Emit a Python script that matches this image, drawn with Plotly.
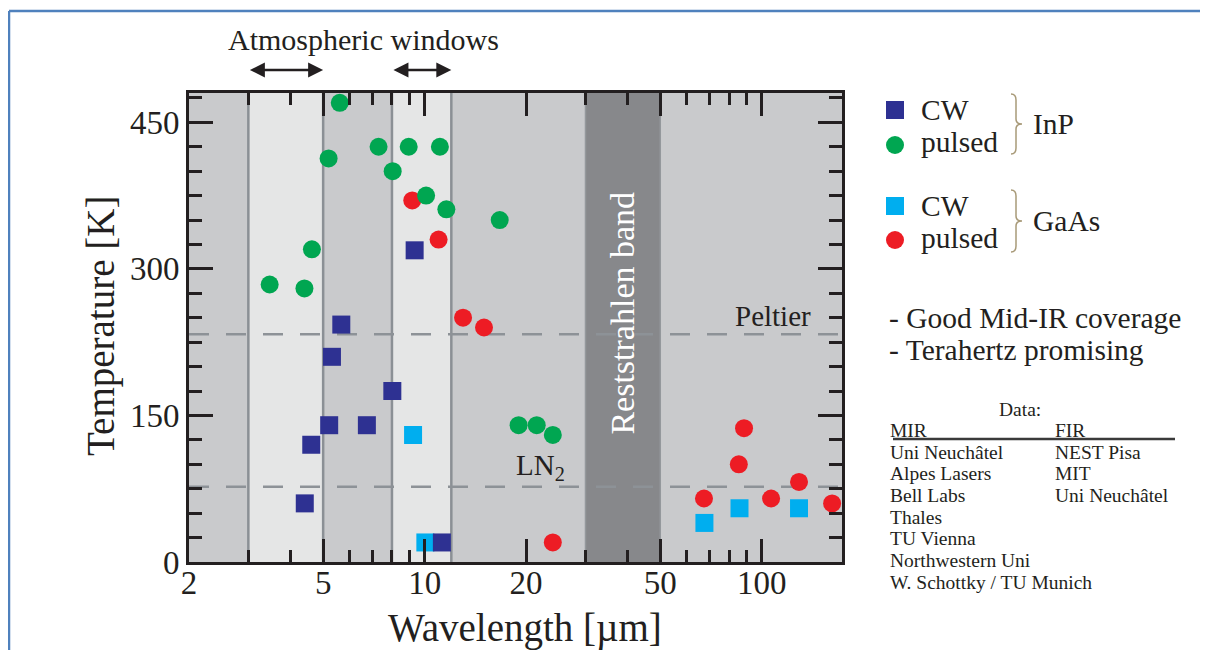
import plotly.graph_objects as go
import math

# ---------------- data ----------------
# InP, continuous wave
inp_cw_wl = [4.41, 4.61, 5.21, 5.31, 5.66, 6.74, 8.02, 9.34, 11.25]
inp_cw_T = [60, 120, 140, 210, 243, 140, 175, 319, 20]
# InP, pulsed
inp_p_wl = [3.47, 4.40, 4.63, 5.19, 5.60, 7.30, 8.04, 8.97, 10.1, 11.1, 11.6, 16.7, 19.0, 21.5, 24.0]
inp_p_T = [284, 280, 320, 413, 470, 425, 400, 425, 375, 425, 361, 350, 140, 140, 130]
# GaAs, continuous wave
gaas_cw_wl = [9.24, 10.05, 67.6, 85.9, 129]
gaas_cw_T = [130, 20, 40, 55, 55]
# GaAs, pulsed
gaas_p_wl = [9.19, 11.0, 13.0, 15.0, 24.0, 67.4, 85.5, 88.6, 106.6, 129, 161.7]
gaas_p_T = [370, 330, 250, 240, 20, 65, 100, 137, 65, 82, 60]

x_major = [2, 5, 10, 20, 50, 100]
x_minor = [3, 4, 6, 7, 8, 9, 30, 40, 60, 70, 80, 90]
y_major = [0, 150, 300, 450]

windows = [(3, 5), (8, 12)]
reststrahlen = (30, 50)
peltier_T = 233
ln2_T = 77

mir_labs = ["Uni Neuchâtel", "Alpes Lasers", "Bell Labs", "Thales", "TU Vienna",
            "Northwestern Uni", "W. Schottky / TU Munich"]
fir_labs = ["NEST Pisa", "MIT", "Uni Neuchâtel"]

# ---------------- style ----------------
FONT = "Liberation Serif"
TXT = "#231f20"
C_INP_CW = "#2e3192"
C_INP_P = "#00a651"
C_GAAS_CW = "#00aeef"
C_GAAS_P = "#ed1c24"
BG_DARK = "#c9cacc"
BG_LIGHT = "#e5e6e6"
BG_REST = "#87888b"
LINE_GRAY = "#8b9095"

OFF = 8  # page body margin
W, H = 1208 - OFF, 650 - OFF
PW, PH = 653, 469
L, T = 189 - OFF, 93 - OFF
R, B = W - L - PW, H - T - PH


def px(x):  # screenshot pixel -> paper
    return (x - OFF - L) / PW


def py(y):
    return (H - B - (y - OFF)) / PH


fig = go.Figure()

ms = 18
fig.add_trace(go.Scatter(x=gaas_p_wl, y=gaas_p_T, mode="markers",
                         marker=dict(symbol="circle", size=ms, color=C_GAAS_P), name="GaAs pulsed"))
fig.add_trace(go.Scatter(x=inp_p_wl, y=inp_p_T, mode="markers",
                         marker=dict(symbol="circle", size=ms, color=C_INP_P), name="InP pulsed"))
fig.add_trace(go.Scatter(x=gaas_cw_wl, y=gaas_cw_T, mode="markers",
                         marker=dict(symbol="square", size=ms, color=C_GAAS_CW), name="GaAs CW"))
fig.add_trace(go.Scatter(x=inp_cw_wl, y=inp_cw_T, mode="markers",
                         marker=dict(symbol="square", size=ms, color=C_INP_CW), name="InP CW"))

shapes = []
for a, b in windows:
    shapes.append(dict(type="rect", xref="x", yref="paper", x0=a, x1=b, y0=0, y1=1,
                       fillcolor=BG_LIGHT, line=dict(width=0), layer="below"))
shapes.append(dict(type="rect", xref="x", yref="paper", x0=reststrahlen[0], x1=reststrahlen[1],
                   y0=0, y1=1, fillcolor=BG_REST, line=dict(width=0), layer="below"))
for v in reststrahlen:
    shapes.append(dict(type="line", xref="x", yref="paper", x0=v, x1=v, y0=0, y1=1,
                       line=dict(color="#94989c", width=1.5), layer="below"))
for a, b in windows:
    for v in (a, b):
        shapes.append(dict(type="line", xref="x", yref="paper", x0=v, x1=v, y0=0, y1=1,
                           line=dict(color=LINE_GRAY, width=2.5), layer="below"))
for v in (peltier_T, ln2_T):
    shapes.append(dict(type="line", xref="paper", yref="y", x0=0, x1=1, y0=v, y1=v,
                       line=dict(color="#8d9297", width=2.5, dash="20px,17px"), layer="below"))

# outer blue frame (top and left edges visible only)
shapes.append(dict(type="line", xref="paper", yref="paper", x0=px(9), x1=px(1300),
                   y0=py(11), y1=py(11), line=dict(color="#4f81bd", width=2.5)))
shapes.append(dict(type="line", xref="paper", yref="paper", x0=px(9), x1=px(9),
                   y0=py(11), y1=py(800), line=dict(color="#4f81bd", width=2.5)))


def sq(cx, cy, color):
    return dict(type="rect", xref="paper", yref="paper", x0=px(cx - 9), x1=px(cx + 9),
                y0=py(cy + 9), y1=py(cy - 9), fillcolor=color, line=dict(width=0))


def circ(cx, cy, color):
    return dict(type="circle", xref="paper", yref="paper", x0=px(cx - 9), x1=px(cx + 9),
                y0=py(cy + 9), y1=py(cy - 9), fillcolor=color, line=dict(width=0))


shapes += [sq(895, 110, C_INP_CW), circ(895, 145, C_INP_P),
           sq(895, 206, C_GAAS_CW), circ(895, 240, C_GAAS_P)]


def brace(x0, ytop, ybot):
    ym = (ytop + ybot) / 2
    xm = x0 + 5
    xt = x0 + 11
    pts = (f"M {px(x0)},{py(ytop)} Q {px(xm)},{py(ytop)} {px(xm)},{py(ytop + 6)} "
           f"L {px(xm)},{py(ym - 5)} Q {px(xm)},{py(ym)} {px(xt)},{py(ym)} "
           f"Q {px(xm)},{py(ym)} {px(xm)},{py(ym + 5)} "
           f"L {px(xm)},{py(ybot - 6)} Q {px(xm)},{py(ybot)} {px(x0)},{py(ybot)}")
    return dict(type="path", xref="paper", yref="paper", path=pts,
                line=dict(color="#a89a78", width=1.5))


shapes += [brace(1011, 94, 154), brace(1011, 190, 252)]

shapes.append(dict(type="line", xref="paper", yref="paper", x0=px(893), x1=px(1175),
                   y0=py(439), y1=py(439), line=dict(color="#3a3a3a", width=2.5)))

ann = []
for a, b in windows:
    ann.append(dict(xref="x", yref="paper", x=math.log10(b), y=py(70), ax=math.log10(a), ay=0,
                    axref="x", ayref="pixel", showarrow=True, arrowhead=2, arrowside="end+start",
                    arrowsize=1.2, arrowwidth=2.5, arrowcolor=TXT, text=""))


def text(x, y, s, size, xanchor="left", color=TXT, angle=0, xref="paper", yref="paper"):
    ann.append(dict(xref=xref, yref=yref, x=x, y=y, text=s, showarrow=False,
                    xanchor=xanchor, yanchor="middle", textangle=angle,
                    font=dict(family=FONT, size=size, color=color)))


text(px(363), py(40), "Atmospheric windows", 30, "center")
text(px(101), py(326), "Temperature [K]", 39, "center", angle=-90)
text(px(525), py(628), "Wavelength [µm]", 39, "center")
text(math.log10(38.7), 255, "Reststrahlen band", 34, "center", color="white", angle=-90,
     xref="x", yref="y")
text(math.log10(108), 252, "Peltier", 29, "center", xref="x", yref="y")
text(math.log10(22.1), 97, "LN<sub>2</sub>", 29, "center", xref="x", yref="y")

LS = 29.5
text(px(919), py(110), "CW", LS)
text(px(919), py(142), "pulsed", LS)
text(px(1031), py(124), "InP", LS)
text(px(919), py(206), "CW", LS)
text(px(919), py(238), "pulsed", LS)
text(px(1031), py(221), "GaAs", LS)
text(px(887), py(318), "- Good Mid-IR coverage", LS)
text(px(887), py(350), "- Terahertz promising", LS)

DS = 19.5
text(px(1020), py(409), "Data:", DS, "center")
text(px(888), py(430), "MIR", DS)
text(px(1053), py(430), "FIR", DS)
for i, s in enumerate(mir_labs):
    text(px(888), py(452 + 21.7 * i), s, DS)
for i, s in enumerate(fir_labs):
    text(px(1053), py(452 + 21.7 * i), s, DS)

fig.update_layout(
    width=W, height=H, margin=dict(l=L, r=R, t=T, b=B),
    paper_bgcolor="white", plot_bgcolor=BG_DARK, showlegend=False,
    shapes=shapes, annotations=ann,
    font=dict(family=FONT, color=TXT),
)
fig.update_xaxes(type="log", range=[math.log10(2), math.log10(173)],
                 tickvals=x_major, ticktext=[str(v) for v in x_major],
                 ticks="inside", ticklen=23, tickwidth=3, tickcolor=TXT,
                 minor=dict(tickvals=x_minor, ticks="inside", ticklen=12, tickwidth=3, tickcolor=TXT),
                 showline=True, linecolor=TXT, linewidth=3, mirror="allticks",
                 showgrid=False, zeroline=False, ticklabelstandoff=-11,
                 tickfont=dict(family=FONT, size=33, color=TXT))
fig.update_yaxes(range=[0, 480], tickvals=y_major,
                 ticks="inside", ticklen=24, tickwidth=3, tickcolor=TXT,
                 minor=dict(dtick=25, ticks="inside", ticklen=13, tickwidth=3, tickcolor=TXT),
                 showline=True, linecolor=TXT, linewidth=3, mirror="allticks",
                 showgrid=False, zeroline=False,
                 tickfont=dict(family=FONT, size=33, color=TXT))

fig.write_html("out.html")
